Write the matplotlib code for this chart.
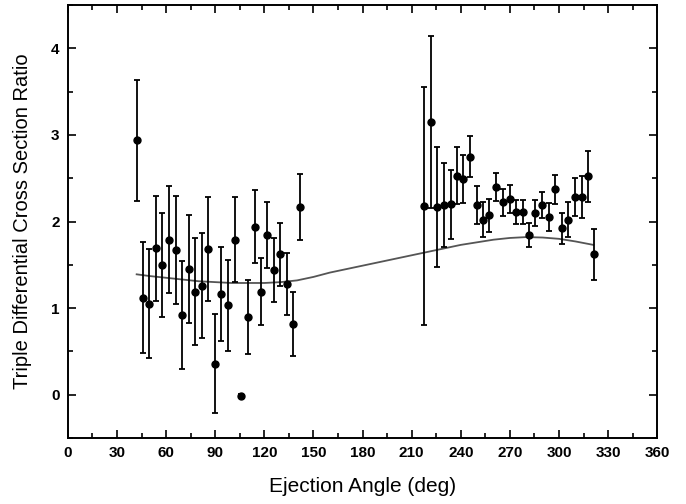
import numpy as np
import matplotlib
matplotlib.use("Agg")
import matplotlib.pyplot as plt
from matplotlib.ticker import MultipleLocator

plt.rcParams["font.family"] = ["Liberation Sans", "DejaVu Sans"]

# measured points (ejection angle, ratio, error)
angle = [42.0, 45.6, 49.7, 53.8, 57.7, 61.7, 65.8, 69.5, 73.8, 77.8,
         81.7, 85.8, 89.9, 93.7, 97.6, 101.9, 105.9, 109.8, 114.1, 117.8,
         121.8, 125.7, 129.8, 133.7, 137.5, 141.8,
         217.6, 221.7, 225.7, 229.8, 233.9, 237.6, 241.6, 245.7, 249.8, 253.5,
         257.5, 261.6, 265.7, 269.8, 273.8, 277.9, 281.9, 285.6, 289.7, 293.8,
         297.7, 302.0, 305.6, 309.7, 313.8, 317.8, 321.5]
ratio = [2.94, 1.12, 1.05, 1.69, 1.50, 1.79, 1.67, 0.92, 1.45, 1.19,
         1.26, 1.68, 0.36, 1.16, 1.03, 1.79, -0.01, 0.90, 1.94, 1.19,
         1.84, 1.44, 1.62, 1.28, 0.82, 2.17,
         2.18, 3.15, 2.17, 2.19, 2.20, 2.53, 2.49, 2.75, 2.19, 2.02,
         2.07, 2.40, 2.22, 2.26, 2.11, 2.11, 1.84, 2.10, 2.19, 2.05,
         2.37, 1.92, 2.02, 2.28, 2.28, 2.52, 1.62]
error = [0.70, 0.64, 0.63, 0.61, 0.60, 0.62, 0.62, 0.62, 0.62, 0.62,
         0.61, 0.60, 0.57, 0.54, 0.52, 0.49, 0.02, 0.43, 0.42, 0.39,
         0.38, 0.37, 0.36, 0.36, 0.37, 0.38,
         1.37, 0.99, 0.69, 0.49, 0.40, 0.33, 0.28, 0.24, 0.22, 0.20,
         0.19, 0.16, 0.16, 0.16, 0.14, 0.14, 0.14, 0.15, 0.15, 0.16,
         0.17, 0.18, 0.20, 0.22, 0.24, 0.30, 0.29]

# theory curve
theory_angle = [42, 50, 60, 70, 80, 90, 100, 110, 120, 130, 140, 150, 160, 170,
                180, 190, 200, 210, 220, 230, 240, 250, 260, 270, 280, 290,
                300, 310, 321]
theory_ratio = [1.39, 1.37, 1.35, 1.33, 1.31, 1.30, 1.29, 1.29, 1.29, 1.30, 1.32,
                1.36, 1.41, 1.45, 1.49, 1.53, 1.57, 1.61, 1.65, 1.69, 1.73,
                1.76, 1.79, 1.81, 1.82, 1.815, 1.80, 1.77, 1.73]

fig = plt.figure(figsize=(6.86, 5.04), dpi=100)
ax = fig.add_axes([0.099, 0.131, 0.859, 0.859])

ax.plot(theory_angle, theory_ratio, color="#555555", linewidth=1.3, zorder=2)
ax.errorbar(angle, ratio, yerr=error, fmt="o", color="black", markersize=5,
            elinewidth=1.3, capsize=2.5, capthick=1.3, zorder=3)

ax.set_xlim(0, 360)
ax.set_ylim(-0.5, 4.5)
ax.xaxis.set_major_locator(MultipleLocator(30))
ax.xaxis.set_minor_locator(MultipleLocator(15))
ax.yaxis.set_major_locator(MultipleLocator(1))
ax.yaxis.set_minor_locator(MultipleLocator(0.5))
ax.tick_params(which="both", direction="in", top=True, right=True, width=1.2)
ax.tick_params(which="major", length=6, labelsize=11, pad=6)
ax.tick_params(which="minor", length=3.5)
for lab in ax.get_xticklabels() + ax.get_yticklabels():
    lab.set_fontweight("bold")
for sp in ax.spines.values():
    sp.set_linewidth(1.4)

ax.set_xlabel("Ejection Angle (deg)", fontsize=15, labelpad=12)
ax.set_ylabel("Triple Differential Cross Section Ratio", fontsize=14.5, labelpad=14)

fig.savefig("out.png", dpi=100)
